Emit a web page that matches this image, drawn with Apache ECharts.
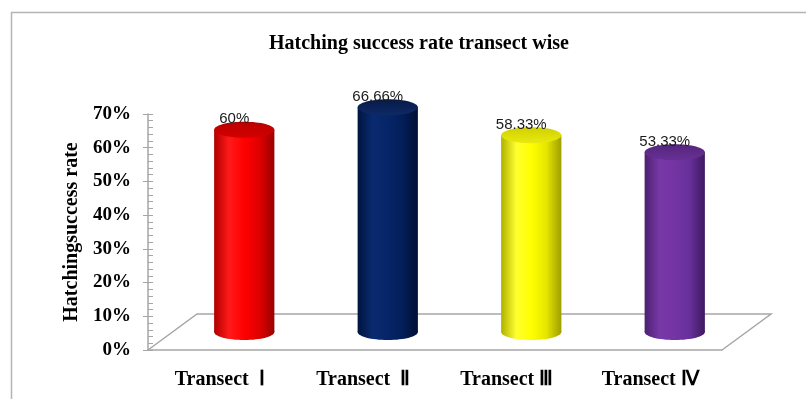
<!DOCTYPE html>
<html>
<head>
<meta charset="utf-8">
<script src="https://cdn.jsdelivr.net/npm/echarts@6/dist/echarts.min.js"></script>
<style>
html,body{margin:0;padding:0;background:#fff;}
#chart{width:806px;height:399px;}
</style>
</head>
<body>
<div id="chart"></div>
<script>
const categories = ['Transect  Ⅰ', 'Transect  Ⅱ', 'Transect Ⅲ', 'Transect Ⅳ'];
const values = [60, 66.66, 58.33, 53.33];
const valueLabels = ['60%', '66.66%', '58.33%', '53.33%'];
const yMin = 0, yMax = 70, yStep = 10;

const bodyColors = [
  ['#b00000', '#ff1a1a', '#ff0000', '#e00000', '#9a0000'],
  ['#00153f', '#0a2a70', '#062568', '#031e58', '#000f33'],
  ['#b0b000', '#ffff30', '#ffff00', '#e6e600', '#9e9e00'],
  ['#4c2070', '#7838a8', '#7434a4', '#66309a', '#40185e']
];
const topColors = [
  ['#b80000', '#d40000'],
  ['#081a48', '#0e2a66'],
  ['#d0d000', '#eaea10'],
  ['#54267c', '#683096']
];

const DX = 49, DY = -36;
const SERIF = '"Liberation Serif", "Times New Roman", serif';

const chart = echarts.init(document.getElementById('chart'));

function grad(cols) {
  const n = cols.length;
  return new echarts.graphic.LinearGradient(0, 0, 1, 0,
    cols.map((c, k) => ({ offset: k / (n - 1), color: c })));
}

chart.setOption({
  animation: false,
  title: {
    text: 'Hatching success rate transect wise',
    left: 264, top: 29,
    textStyle: { fontFamily: SERIF, fontWeight: 'bold', fontSize: 20, color: '#000' }
  },
  graphic: [{
    type: 'rect', shape: { x: 11.5, y: 12.5, width: 900, height: 500 },
    style: { fill: 'none', stroke: '#b4b4b4', lineWidth: 1.5 }, silent: true
  }],
  grid: { left: 148, right: 84, top: 114, bottom: 49 },
  xAxis: {
    type: 'category', data: categories,
    axisLine: { show: true, lineStyle: { color: '#a6a6a6', width: 1.5 } },
    axisTick: { show: false },
    axisLabel: { margin: 20, fontFamily: SERIF, fontWeight: 'bold', fontSize: 20, color: '#000' }
  },
  yAxis: [{
    type: 'value', min: yMin, max: yMax, interval: yStep,
    name: 'Hatchingsuccess rate', nameLocation: 'middle', nameGap: 64, nameRotate: 90,
    nameTextStyle: { fontFamily: SERIF, fontWeight: 'bold', fontSize: 20, color: '#000' },
    axisLine: { show: true, lineStyle: { color: '#a6a6a6', width: 1.5 } },
    axisTick: { show: true, inside: true, length: 5, lineStyle: { color: '#a6a6a6' } },
    minorTick: { show: true, splitNumber: 5, length: 5, lineStyle: { color: '#a6a6a6' } },
    splitLine: { show: false },
    axisLabel: { formatter: '{value}%', margin: 17, fontFamily: SERIF, fontWeight: 'bold', fontSize: 19, color: '#000' }
  }, {
    type: 'value', min: yMin, max: yMax, interval: yStep, position: 'left',
    axisLine: { show: false },
    axisTick: { show: true, inside: false, length: 5, lineStyle: { color: '#a6a6a6' } },
    splitLine: { show: false },
    axisLabel: { show: false }
  }],
  series: [{
    type: 'custom',
    silent: true,
    data: [[0, 0]],
    encode: { x: 0, y: 1 },
    renderItem: function (params, api) {
      const p0 = api.coord([0, 0]);
      const band = api.size([1, 0])[0];
      const left = p0[0] - band / 2;
      const right = left + band * categories.length;
      const y = p0[1];
      return {
        type: 'polyline',
        shape: { points: [[left, y], [left + DX, y + DY], [right + DX, y + DY], [right, y]] },
        style: { stroke: '#a6a6a6', lineWidth: 1.5, fill: null }
      };
    }
  }, {
    type: 'custom',
    silent: true,
    data: values.map((v, i) => [i, v]),
    encode: { x: 0, y: 1 },
    renderItem: function (params, api) {
      const i = api.value(0), v = api.value(1);
      const base = api.coord([i, 0]);
      const top = api.coord([i, v]);
      const band = api.size([1, 0])[0];
      const rx = band * 0.21, ry = 8;
      const cx = base[0] + DX / 2;
      const by = base[1] + DY / 2;
      const ty = top[1] + DY / 2;
      const body = grad(bodyColors[i]);
      return {
        type: 'group',
        children: [
          { type: 'ellipse', shape: { cx: cx, cy: by, rx: rx, ry: ry }, style: { fill: grad(bodyColors[i]) } },
          { type: 'rect', shape: { x: cx - rx, y: ty, width: rx * 2, height: by - ty }, style: { fill: body } },
          { type: 'ellipse', shape: { cx: cx, cy: ty, rx: rx, ry: ry },
            style: { fill: new echarts.graphic.LinearGradient(0, 0, 0, 1, [
              { offset: 0, color: topColors[i][0] }, { offset: 1, color: topColors[i][1] }]) } },
          { type: 'text', style: { text: valueLabels[i], x: cx - 10, y: ty - 3,
              align: 'center', verticalAlign: 'bottom',
              font: '15px "Liberation Sans", Arial, sans-serif', fill: '#1a1a1a' } }
        ]
      };
    }
  }]
});
</script>
</body>
</html>
